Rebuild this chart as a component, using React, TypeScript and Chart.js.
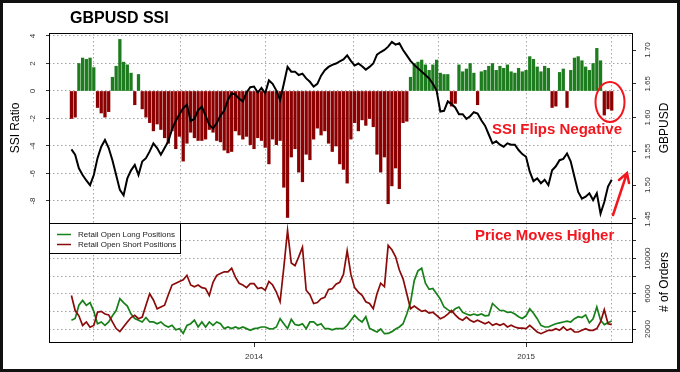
import React, { useEffect, useRef } from 'react';
import { Chart, registerables } from 'chart.js';

Chart.register(...registerables);

// ---------------- data ----------------
// observations every 5 days, first one ~28 Apr 2013 (day offsets from 2014-01-01)
const START_DAY = -245;
const STEP_DAYS = 5;

const SSI_RATIO = [
  -2.0, -1.9, 2.0, 2.4, 2.3, 2.4, 1.7, -1.2, -1.6, -1.9,
  -1.5, 1.0, 1.8, 3.75, 2.1, 1.9, 1.3, -1.0, 1.2, -1.3,
  -1.9, -2.3, -2.9, -2.4, -2.8, -3.4, -3.8, -2.9, -4.2, -3.3,
  -5.1, -3.8, -3.0, -3.4, -3.6, -3.6, -3.5, -2.8, -3.0, -3.6,
  -3.7, -4.3, -4.5, -4.4, -2.9, -3.2, -3.5, -3.3, -3.9, -4.2,
  -3.4, -3.6, -4.1, -5.3, -3.5, -3.9, -3.6, -7.0, -9.2, -4.8,
  -4.2, -5.9, -6.6, -4.6, -5.0, -3.5, -2.7, -3.2, -2.9, -3.8,
  -4.4, -4.0, -5.3, -5.7, -6.7, -3.5, -2.3, -2.9, -2.1, -2.5,
  -2.0, -2.6, -4.6, -5.9, -4.8, -8.2, -6.9, -5.6, -7.1, -2.3,
  -2.2, 1.0, 2.0, 2.1, 2.25, 1.9, 1.5, 1.9, 2.25, 1.3,
  1.2, 1.2, -1.1, -0.9, 1.9, 1.4, 1.6, 2.0, 1.3, -1.0,
  1.4, 1.5, 1.8, 2.0, 1.5, 1.8, 1.65, 1.9, 1.4, 1.3,
  1.65, 1.4, 1.5, 2.5, 2.3, 1.75, 1.4, 1.8, 1.65, -1.2,
  -1.1, 1.35, 1.6, -1.2, 1.5, 2.4, 2.5, 2.2, 1.75, 1.5,
  2.0, 3.1, 2.2, -1.75, -1.3, -1.4,
];

const GBPUSD = [
  1.553, 1.545, 1.525, 1.515, 1.507, 1.500, 1.515, 1.540, 1.557, 1.567,
  1.555, 1.537, 1.515, 1.493, 1.485, 1.510, 1.522, 1.530, 1.515, 1.535,
  1.540, 1.550, 1.562, 1.555, 1.545, 1.555, 1.565, 1.583, 1.595, 1.605,
  1.614, 1.619, 1.595, 1.598, 1.611, 1.616, 1.603, 1.589, 1.584, 1.592,
  1.603, 1.610, 1.626, 1.636, 1.634, 1.628, 1.624, 1.637, 1.645, 1.646,
  1.637, 1.644, 1.636, 1.655, 1.650, 1.640, 1.626, 1.650, 1.675, 1.668,
  1.668, 1.663, 1.665, 1.658, 1.653, 1.646, 1.650, 1.662, 1.670, 1.675,
  1.678, 1.680, 1.683, 1.686, 1.692, 1.684, 1.677, 1.680, 1.676, 1.671,
  1.675, 1.680, 1.693, 1.697, 1.700, 1.705, 1.712, 1.708, 1.710, 1.700,
  1.692, 1.684, 1.678, 1.673, 1.668, 1.663, 1.658, 1.650, 1.640, 1.609,
  1.610, 1.624, 1.620, 1.615, 1.605, 1.605, 1.598, 1.602, 1.608, 1.606,
  1.596, 1.588, 1.575, 1.562, 1.565, 1.560, 1.557, 1.562, 1.560, 1.560,
  1.552, 1.546, 1.542, 1.520, 1.506, 1.510, 1.503, 1.508, 1.500, 1.522,
  1.528, 1.537, 1.539, 1.547, 1.535, 1.512, 1.490, 1.480, 1.483, 1.488,
  1.478, 1.488, 1.458, 1.475, 1.498, 1.508,
];

const LONG_POSITIONS = [
  3000, 3200, 4700, 5250, 4690, 5000, 4000, 2600, 2800, 2420,
  2800, 3500, 4100, 5450, 5000, 4600, 3700, 3200, 3000, 2800,
  3300, 2800, 2800, 2600, 2800, 2420, 2230, 2420, 1900, 2040,
  1500, 2400, 2600, 3000, 2230, 2800, 2230, 2800, 2420, 2800,
  2600, 2040, 2230, 2040, 2230, 2040, 2230, 2040, 1850, 2040,
  2100, 2230, 2230, 2040, 2000, 2230, 3170, 2600, 2040, 3100,
  2500, 2420, 2600, 2040, 2800, 2800, 2420, 2600, 2040, 2040,
  1900, 2040, 2040, 2040, 2420, 3000, 3550, 3100, 2800, 3400,
  2100, 1850, 1660, 2000, 1470, 1500, 1700, 2000, 2230, 2600,
  3700, 5000, 7500, 8600, 8900, 7200, 6500, 6600, 6000, 5400,
  4500, 4200, 3900, 4300, 4500, 3900, 3700, 3550, 3700, 3550,
  3700, 3500, 3550, 4900, 4500, 4100, 4100, 3900, 3930, 3700,
  3400, 3200, 3500, 4300, 3800, 3170, 2420, 2230, 2230, 2420,
  2600, 2700, 2800, 2900, 2800, 3170, 3400, 3300, 3600, 2700,
  3170, 4500, 3000, 2500, 2700, 2900,
];

const SHORT_POSITIONS = [
  5800, 4100, 3500, 2400, 2800, 2200, 2400, 3900, 4000, 3700,
  3600, 2800, 2050, 1700, 2250, 2800, 3300, 3550, 3170, 3350,
  4690, 6000, 5300, 4300, 4500, 4700, 5900, 7000, 7200, 7400,
  7600, 8100, 7000, 6800, 7000, 6700, 6600, 5800, 7300, 8100,
  8300, 8500, 8500, 8900, 7900, 7200, 7000, 6700, 7150, 7150,
  6600, 6700, 6400, 7400, 7000, 6200, 5100, 9000, 13200, 9500,
  9200, 10200, 11300, 6400, 5900, 4900, 5000, 5450, 5600, 6500,
  6580, 7100, 7300, 8200, 10900, 8200, 6700, 6200, 5830, 5100,
  4900, 4300, 6000, 7200, 6800, 11500, 11000, 10200, 8700, 7700,
  6000, 4300, 4600, 4300, 4000, 4100, 3800, 3900, 3550, 3170,
  3350, 3700, 4100, 3600, 3200, 3000, 3350, 3000, 2800, 3000,
  2800, 2600, 2800, 2420, 2600, 2420, 2600, 2230, 2420, 2230,
  2100, 2100, 2040, 2420, 2040, 1660, 1470, 1660, 1850, 1850,
  2040, 1850, 2230, 1850, 2040, 1660, 1660, 1850, 2040, 1850,
  1850, 2040, 2800, 4200, 2600, 2500,
];

const GRID_DAYS = [-216, -99, 16, 133, 248, 365, 480];
const YEAR_DAYS = [0, 365];
const YEAR_LABELS = ['2014', '2015'];
const SSI_TICKS = [4, 2, 0, -2, -4, -6, -8];
const PRICE_TICKS = [1.45, 1.5, 1.55, 1.6, 1.65, 1.7];
const ORDER_TICKS = [2000, 4000, 6000, 8000, 10000, 12000];
const ORDER_LABELED = [2000, 6000, 10000];

// ---------------- styling ----------------
const FONT = '"Liberation Sans", Arial, Helvetica, sans-serif';
const BAR_GREEN = '#1d7c1d';
const BAR_RED = '#8b0000';
const LINE_GREEN = '#188018';
const LINE_RED = '#8b0a0a';
const NOTE_RED = '#f2161e';
const GRID = '#a6a6a6';
const GRID_DASH = [1.5, 2.5];
const TICK_COLOR = '#333';

const X_MIN = -275.1;
const X_MAX = 507.2;

const DAYS = SSI_RATIO.map((_, i) => START_DAY + i * STEP_DAYS);

function rotText(ctx: CanvasRenderingContext2D, text: string, x: number, y: number, font: string, color: string) {
  ctx.save();
  ctx.translate(x, y);
  ctx.rotate(-Math.PI / 2);
  ctx.font = font;
  ctx.fillStyle = color;
  ctx.textAlign = 'center';
  ctx.textBaseline = 'middle';
  ctx.fillText(text, 0, 0);
  ctx.restore();
}

const topDecor = {
  id: 'topDecor',
  afterDraw(chart: any) {
    const { ctx, chartArea: a } = chart;
    ctx.save();
    ctx.strokeStyle = '#000';
    ctx.lineWidth = 1;
    ctx.strokeRect(a.left + 0.5, a.top + 0.5, a.right - a.left, a.bottom - a.top);

    ctx.fillStyle = '#000';
    ctx.font = `bold 16px ${FONT}`;
    ctx.textAlign = 'left';
    ctx.textBaseline = 'alphabetic';
    ctx.fillText('GBPUSD SSI', 70, 23);

    rotText(ctx, 'SSI Ratio', 16, 128, `12px ${FONT}`, '#000');
    rotText(ctx, 'GBPUSD', 665, 128, `12px ${FONT}`, '#000');

    ctx.fillStyle = NOTE_RED;
    ctx.font = `bold 15px ${FONT}`;
    ctx.textAlign = 'left';
    ctx.fillText('SSI Flips Negative', 492, 134);

    ctx.strokeStyle = NOTE_RED;
    ctx.lineWidth = 2;
    ctx.beginPath();
    ctx.ellipse(610, 102, 14.5, 20, 0, 0, Math.PI * 2);
    ctx.stroke();

    ctx.lineWidth = 2.5;
    ctx.lineCap = 'round';
    ctx.beginPath();
    ctx.moveTo(613, 215);
    ctx.lineTo(627, 173);
    ctx.moveTo(619, 180);
    ctx.lineTo(627, 173);
    ctx.lineTo(629, 183);
    ctx.stroke();
    ctx.restore();
  },
};

const bottomDecor = {
  id: 'bottomDecor',
  afterDraw(chart: any) {
    const { ctx, chartArea: a } = chart;
    ctx.save();
    ctx.strokeStyle = '#000';
    ctx.lineWidth = 1;
    ctx.strokeRect(a.left + 0.5, a.top + 0.5, a.right - a.left, a.bottom - a.top);

    // legend
    ctx.fillStyle = '#fff';
    ctx.fillRect(a.left + 0.5, a.top + 0.5, 131, 30);
    ctx.strokeRect(a.left + 0.5, a.top + 0.5, 131, 30);
    ctx.lineWidth = 1.5;
    ctx.strokeStyle = LINE_GREEN;
    ctx.beginPath(); ctx.moveTo(57, 234.5); ctx.lineTo(71, 234.5); ctx.stroke();
    ctx.strokeStyle = LINE_RED;
    ctx.beginPath(); ctx.moveTo(57, 244.5); ctx.lineTo(71, 244.5); ctx.stroke();
    ctx.fillStyle = '#222';
    ctx.font = `8px ${FONT}`;
    ctx.textAlign = 'left';
    ctx.textBaseline = 'middle';
    ctx.fillText('Retail Open Long Positions', 78, 234.5);
    ctx.fillText('Retail Open Short Positions', 78, 244.5);

    ctx.fillStyle = NOTE_RED;
    ctx.font = `bold 15px ${FONT}`;
    ctx.textBaseline = 'alphabetic';
    ctx.fillText('Price Moves Higher', 475, 240);

    rotText(ctx, '# of Orders', 665, 282, `12px ${FONT}`, '#000');
    ctx.restore();
  },
};

const tickFont = { family: FONT, size: 8 };

function topConfig(): any {
  return {
    type: 'bar',
    data: {
      datasets: [
        {
          type: 'line',
          label: 'GBPUSD',
          data: DAYS.map((d, i) => ({ x: d, y: GBPUSD[i] })),
          yAxisID: 'y2',
          borderColor: '#000',
          borderWidth: 2,
          pointRadius: 0,
          tension: 0,
          order: 0,
        },
        {
          type: 'bar',
          label: 'SSI Ratio',
          data: DAYS.map((d, i) => ({ x: d, y: SSI_RATIO[i] })),
          yAxisID: 'y',
          backgroundColor: SSI_RATIO.map((v) => (v >= 0 ? BAR_GREEN : BAR_RED)),
          borderWidth: 0,
          barThickness: 2.6,
          grouped: false,
          order: 1,
        },
      ],
    },
    options: {
      animation: false,
      responsive: false,
      devicePixelRatio: 1,
      layout: { padding: { left: 0, right: 0, top: 33, bottom: 149 } },
      plugins: { legend: { display: false }, tooltip: { enabled: false }, title: { display: false } },
      scales: {
        x: {
          type: 'linear',
          position: 'bottom',
          min: X_MIN,
          max: X_MAX,
          offset: false,
          afterBuildTicks: (s: any) => { s.ticks = GRID_DAYS.map((v) => ({ value: v })); },
          afterFit: (s: any) => { s.height = 0; },
          ticks: { display: false },
          grid: { offset: false, color: GRID, drawTicks: false, lineWidth: 1 },
          border: { display: false, dash: GRID_DASH },
        },
        y: {
          type: 'linear',
          position: 'left',
          min: -9.6,
          max: 4.218,
          afterBuildTicks: (s: any) => { s.ticks = SSI_TICKS.map((v) => ({ value: v })); },
          afterFit: (s: any) => { s.width = 49; },
          ticks: {
            autoSkip: false, minRotation: 90, maxRotation: 90, crossAlign: 'center',
            padding: 9.4, color: TICK_COLOR, font: tickFont,
            callback: (v: number) => String(v),
          },
          grid: { color: GRID, lineWidth: 1, tickColor: TICK_COLOR, tickLength: 3, tickBorderDash: [] },
          border: { display: false, dash: GRID_DASH },
        },
        y2: {
          type: 'linear',
          position: 'right',
          min: 1.44408,
          max: 1.72515,
          afterBuildTicks: (s: any) => { s.ticks = PRICE_TICKS.map((v) => ({ value: v })); },
          afterFit: (s: any) => { s.width = 48; },
          ticks: {
            autoSkip: false, minRotation: 90, maxRotation: 90, crossAlign: 'center',
            padding: 4.2, color: TICK_COLOR, font: tickFont,
            callback: (v: number) => v.toFixed(2),
          },
          grid: { drawOnChartArea: false, tickColor: TICK_COLOR, tickLength: 4, tickBorderDash: [] },
          border: { display: false },
        },
      },
    },
    plugins: [topDecor],
  };
}

function bottomConfig(): any {
  const xTicks = Array.from(new Set([...GRID_DAYS, ...YEAR_DAYS])).sort((a, b) => a - b);
  return {
    type: 'line',
    data: {
      datasets: [
        {
          label: 'Retail Open Long Positions',
          data: DAYS.map((d, i) => ({ x: d, y: LONG_POSITIONS[i] })),
          borderColor: LINE_GREEN,
          borderWidth: 1.7,
          pointRadius: 0,
          tension: 0,
          order: 1,
        },
        {
          label: 'Retail Open Short Positions',
          data: DAYS.map((d, i) => ({ x: d, y: SHORT_POSITIONS[i] })),
          borderColor: LINE_RED,
          borderWidth: 1.7,
          pointRadius: 0,
          tension: 0,
          order: 0,
        },
      ],
    },
    options: {
      animation: false,
      responsive: false,
      devicePixelRatio: 1,
      layout: { padding: { left: 49, right: 0, top: 223, bottom: 5 } },
      plugins: { legend: { display: false }, tooltip: { enabled: false }, title: { display: false } },
      scales: {
        x: {
          type: 'linear',
          position: 'bottom',
          min: X_MIN,
          max: X_MAX,
          offset: false,
          afterBuildTicks: (s: any) => { s.ticks = xTicks.map((v) => ({ value: v })); },
          afterFit: (s: any) => { s.height = 25; },
          ticks: {
            autoSkip: false, maxRotation: 0, minRotation: 0, padding: 5.2,
            color: TICK_COLOR, font: tickFont,
            callback: (v: number) => {
              const k = YEAR_DAYS.indexOf(v);
              return k >= 0 ? YEAR_LABELS[k] : '';
            },
          },
          grid: {
            offset: false,
            lineWidth: 1,
            color: (c: any) => (c.tick && GRID_DAYS.includes(c.tick.value) ? GRID : 'rgba(0,0,0,0)'),
            tickColor: (c: any) => (c.tick && YEAR_DAYS.includes(c.tick.value) ? TICK_COLOR : 'rgba(0,0,0,0)'),
            tickLength: 5,
            tickBorderDash: [],
          },
          border: { display: false, dash: GRID_DASH },
        },
        y: {
          type: 'linear',
          position: 'right',
          min: 523,
          max: 14045,
          afterBuildTicks: (s: any) => { s.ticks = ORDER_TICKS.map((v) => ({ value: v })); },
          afterFit: (s: any) => { s.width = 48; },
          ticks: {
            autoSkip: false, minRotation: 90, maxRotation: 90, crossAlign: 'center',
            padding: 0.9, color: TICK_COLOR, font: tickFont,
            callback: (v: number) => (ORDER_LABELED.includes(v) ? String(v) : ''),
          },
          grid: { color: GRID, lineWidth: 1, tickColor: TICK_COLOR, tickLength: 4, tickBorderDash: [] },
          border: { display: false, dash: GRID_DASH },
        },
      },
    },
    plugins: [bottomDecor],
  };
}

export default function App() {
  const topRef = useRef<HTMLCanvasElement>(null);
  const botRef = useRef<HTMLCanvasElement>(null);

  useEffect(() => {
    const c1 = new Chart(topRef.current as HTMLCanvasElement, topConfig());
    const c2 = new Chart(botRef.current as HTMLCanvasElement, bottomConfig());
    return () => {
      c1.destroy();
      c2.destroy();
    };
  }, []);

  const cstyle: React.CSSProperties = { position: 'absolute', left: 0, top: 0, width: 680, height: 372 };
  return (
    <div style={{ position: 'fixed', left: 0, top: 0, width: 680, height: 372, background: '#fff', overflow: 'hidden' }}>
      <canvas ref={topRef} width={680} height={372} style={cstyle} />
      <canvas ref={botRef} width={680} height={372} style={cstyle} />
      <div
        style={{
          position: 'absolute', left: 0, top: 0, width: 680, height: 372,
          boxSizing: 'border-box', border: '3px solid #111', pointerEvents: 'none',
        }}
      />
    </div>
  );
}
